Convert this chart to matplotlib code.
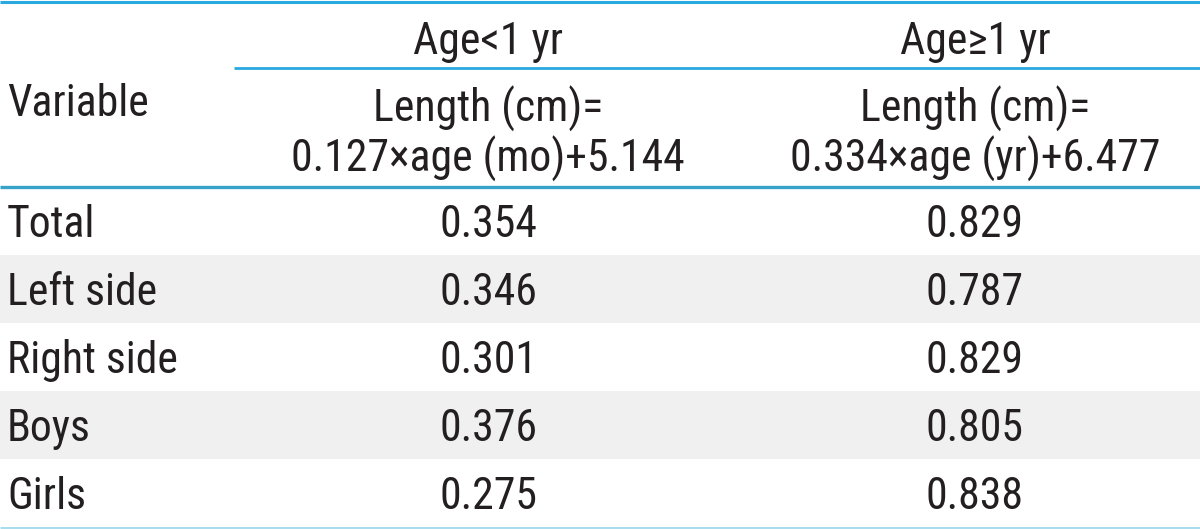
import matplotlib.pyplot as plt
from matplotlib import font_manager

# table content
group_labels = ["Age<1 yr", "Age≥1 yr"]
formula_labels = ["Length (cm)=\n0.127×age (mo)+5.144",
                  "Length (cm)=\n0.334×age (yr)+6.477"]
variables = ["Total", "Left side", "Right side", "Boys", "Girls"]
under_1yr = ["0.354", "0.346", "0.301", "0.376", "0.275"]
over_1yr = ["0.829", "0.787", "0.829", "0.805", "0.838"]

# look for a narrow sans face, the reference uses a condensed font
def find_narrow():
    prefs = ["Liberation Sans Narrow", "Roboto Condensed", "Roboto", "Noto Sans",
             "Open Sans", "DejaVu Sans"]
    found = {}
    for f in font_manager.fontManager.ttflist:
        narrow = ("Narrow" in f.name or "Condensed" in f.name
                  or str(f.stretch) in ("condensed", "semi-condensed", "extra-condensed"))
        if narrow and f.style == "normal" and f.weight in (400, "normal", "regular"):
            found.setdefault(f.name, f.fname)
    for p in prefs:
        if p in found:
            return found[p]
    return None

path = find_narrow()
if path:
    fp = font_manager.FontProperties(fname=path, size=31.5)
else:
    fp = font_manager.FontProperties(family="DejaVu Sans", size=24)

W, H = 1200, 529
fig = plt.figure(figsize=(12, 5.29), dpi=100)
ax = fig.add_axes([0, 0, 1, 1])
ax.set_xlim(0, W)
ax.set_ylim(H, 0)
ax.axis("off")

col_x = [488, 975]
row_top = 187
row_h = 68
tc = "#231f20"

# zebra shading
for i in range(len(variables)):
    if i % 2 == 1:
        ax.axhspan(row_top + i * row_h, row_top + (i + 1) * row_h,
                   color="#f0f0f0", lw=0, zorder=0)

# rules
ax.hlines(1.5, 0, W, color="#2aa8e0", lw=2.2)
ax.hlines(68, 234, W, color="#2aa8e0", lw=2.0)
ax.hlines(row_top, 0, W, color="#37a3c9", lw=2.4)
ax.hlines(H - 1.5, 0, W, color="#a9dcef", lw=2.2)

# header
ax.text(7, 104, "Variable", fontproperties=fp, ha="left", va="center", color=tc)
for x, g, f in zip(col_x, group_labels, formula_labels):
    ax.text(x, 42, g, fontproperties=fp, ha="center", va="center", color=tc)
    ax.text(x, 134, f, fontproperties=fp, ha="center", va="center", color=tc,
            linespacing=1.12, multialignment="center")

# body
for i, (v, a, b) in enumerate(zip(variables, under_1yr, over_1yr)):
    y = row_top + i * row_h + row_h / 2 + 4
    ax.text(7, y, v, fontproperties=fp, ha="left", va="center", color=tc)
    ax.text(col_x[0], y, a, fontproperties=fp, ha="center", va="center", color=tc)
    ax.text(col_x[1], y, b, fontproperties=fp, ha="center", va="center", color=tc)

fig.savefig("out.png", dpi=100)
